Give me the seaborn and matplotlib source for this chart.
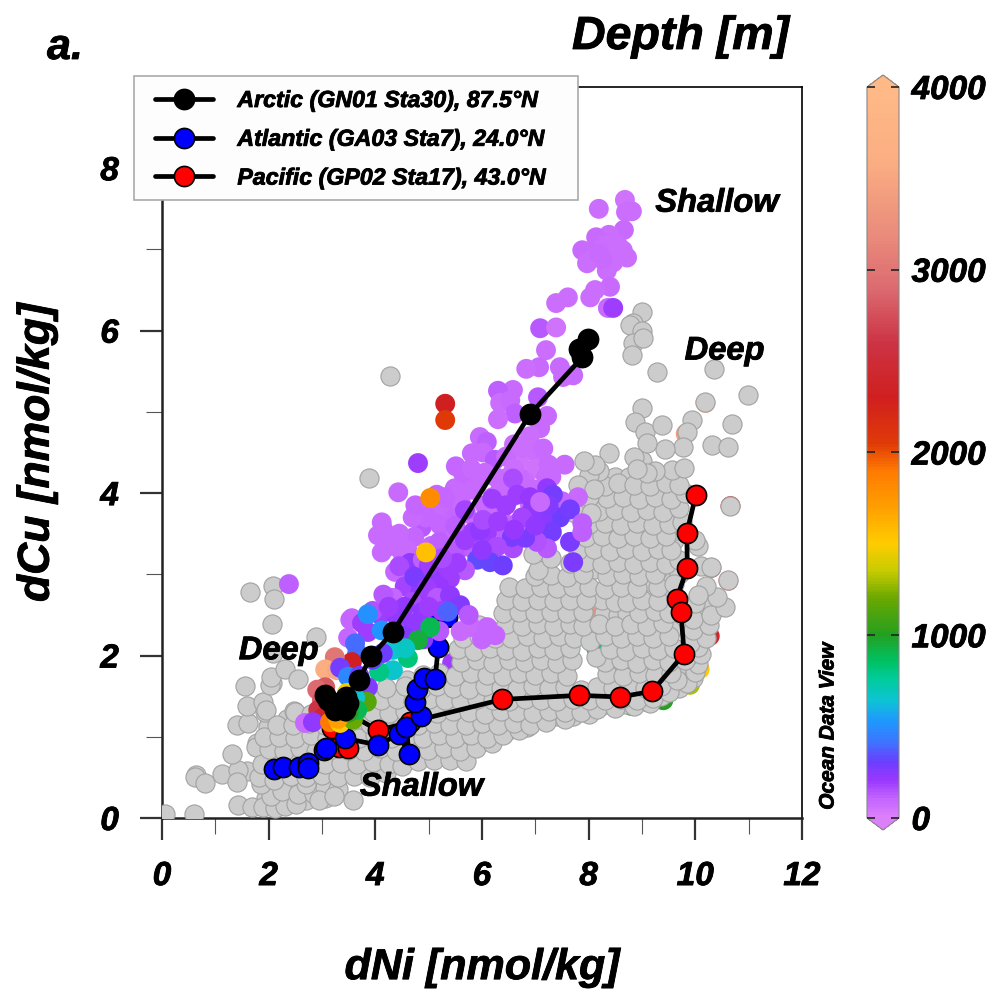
import matplotlib
matplotlib.use('Agg')
import matplotlib.pyplot as plt
import matplotlib.patheffects as pe
import pandas as pd
import seaborn as sns
from matplotlib.cm import ScalarMappable
from matplotlib.colors import LinearSegmentedColormap, Normalize
from matplotlib.patches import Rectangle
from matplotlib.text import Text
from matplotlib.ticker import MultipleLocator

# colour bar stops
depth_stops = [0, 100, 200, 300, 420, 520, 640, 760, 860, 1000, 1200, 1350, 1500, 1700,
               1900, 2050, 2300, 2600, 2900, 3200, 3600, 4000]
depth_colors = ['#dc80fa', '#c264ff', '#9a38ff', '#6c3eff', '#3a78ff', '#2096ff', '#0cc4d4',
                '#00cc99', '#00c060', '#259f20', '#6aa800', '#c8cc00', '#ffcc00', '#ff9f00',
                '#ff7a00', '#e03a08', '#d01f1f', '#cc3344', '#dc6a70', '#ea8c7c', '#fbae82', '#ffb987']

# arctic, atlantic and pacific station profiles
arctic_x = [7.99, 7.82, 7.88, 6.90, 4.33, 3.92, 3.69, 3.45, 3.49, 3.43, 3.34, 3.24, 3.19, 3.11, 3.06]
arctic_y = [5.90, 5.77, 5.67, 4.97, 2.29, 1.99, 1.70, 1.49, 1.42, 1.33, 1.35, 1.33, 1.42, 1.45, 1.51]
atlantic_x = [2.10, 2.27, 2.57, 2.74, 2.74, 3.04, 3.08, 3.43, 4.05, 4.44, 4.63, 4.58, 4.86, 4.74,
              4.78, 4.91, 5.12, 5.18, 5.16, 5.34]
atlantic_y = [0.60, 0.63, 0.63, 0.68, 0.61, 0.84, 0.86, 0.98, 0.90, 1.03, 0.79, 1.12, 1.26, 1.43,
              1.59, 1.72, 1.71, 2.10, 2.47, 2.47]
pacific_x = [10.01, 9.84, 9.85, 9.65, 9.73, 9.79, 9.19, 8.59, 7.82, 6.38, 4.65, 4.05, 3.45, 3.19, 3.32, 3.49]
pacific_y = [3.98, 3.51, 3.08, 2.70, 2.54, 2.02, 1.56, 1.49, 1.51, 1.46, 1.18, 1.08, 1.30, 1.11, 0.87, 0.86]

# coloured samples hidden under the grey cloud (x, y, depth)
under_pts = [(8.14, 2.09, 800), (5.44, 1.91, 200), (10.08, 1.83, 1500), (9.9, 1.64, 1300), (9.4, 1.45, 1000),
             (8.8, 1.38, 900), (10.27, 2.24, 2400), (10.52, 2.6, 2700), (10.3, 3.08, 2400), (10.66, 3.84, 2300),
             (9.82, 4.73, 3400), (10.19, 5.11, 3600), (8.0, 2.5, 3300), (10.62, 2.92, 3000)]

# arctic samples coloured by depth (x, y, depth)
arctic_top = [(8.68, 7.61, 60), (8.19, 7.50, 70), (8.70, 7.46, 70), (8.81, 7.47, 70), (8.66, 7.24, 80),
              (8.38, 7.18, 70), (8.14, 7.15, 80), (7.88, 6.99, 80), (8.64, 6.99, 70), (8.72, 6.90, 70),
              (8.44, 6.93, 80), (7.99, 6.95, 90), (7.97, 6.83, 70), (8.46, 6.84, 70), (8.34, 6.74, 70),
              (8.25, 6.88, 80), (8.1, 6.9, 70), (8.55, 7.05, 70), (8.3, 7.05, 70), (8.2, 6.95, 80),
              (8.40, 6.54, 80), (8.12, 6.50, 70), (8.03, 6.41, 70), (7.61, 6.41, 70), (7.39, 6.34, 70),
              (8.36, 6.28, 90), (8.46, 6.28, 190), (7.09, 6.03, 130), (7.39, 6.04, 60), (7.20, 5.76, 70),
              (7.07, 5.55, 80), (6.83, 5.53, 70), (7.46, 5.55, 90), (7.52, 5.43, 90), (7.71, 5.45, 90),
              (6.58, 5.27, 90), (6.30, 5.26, 110), (6.34, 5.11, 70), (6.53, 5.14, 90), (6.62, 4.98, 110),
              (6.30, 4.91, 70), (7.05, 5.18, 130), (7.22, 4.95, 90), (7.09, 4.80, 90), (5.96, 4.69, 90),
              (6.09, 4.63, 120), (5.81, 4.49, 80), (6.02, 4.50, 80), (6.24, 4.41, 130), (5.51, 4.33, 100),
              (4.80, 4.37, 190), (4.43, 4.01, 80)]
arctic_mid = [(7.0, 4.5, 70), (6.6, 4.6, 70), (6.9, 4.7, 70), (6.7, 4.4, 60), (7.15, 4.55, 90), (7.0, 4.3, 60),
              (6.5, 4.2, 70), (6.8, 4.15, 70), (7.3, 4.2, 90), (7.55, 4.35, 90), (7.8, 3.95, 90), (7.5, 3.9, 100),
              (7.1, 4.0, 70), (6.9, 3.85, 90), (6.2, 3.95, 80), (5.9, 4.1, 80), (5.6, 4.05, 80), (5.7, 3.75, 90),
              (5.35, 3.75, 90), (5.4, 3.5, 90), (5.9, 3.6, 80), (6.1, 3.4, 90), (6.35, 3.75, 100), (6.55, 3.95, 100),
              (4.12, 3.64, 80), (4.05, 3.48, 80), (4.15, 3.55, 80), (4.12, 3.27, 80), (4.50, 3.27, 80), (4.87, 3.58, 130),
              (4.73, 3.46, 100), (5.15, 3.98, 100), (5.04, 3.79, 100), (5.44, 3.82, 100), (5.21, 3.61, 100),
              (5.49, 4.06, 80), (5.64, 4.25, 100), (5.83, 4.04, 80), (4.6, 3.3, 90), (4.85, 3.2, 100), (5.05, 3.35, 100),
              (5.3, 3.25, 90), (5.55, 3.3, 130), (4.95, 3.0, 130), (5.2, 3.85, 90),
              (6.45, 4.45, 80), (6.25, 4.2, 90), (6.05, 4.25, 80), (5.8, 4.3, 90), (6.7, 4.2, 80), (7.25, 4.35, 80),
              (6.1, 3.75, 90), (6.4, 3.55, 110), (5.5, 3.6, 110), (5.2, 3.4, 110), (4.95, 3.7, 100), (4.7, 3.7, 90),
              (4.45, 3.5, 90), (4.3, 3.35, 80), (4.65, 3.05, 120), (5.1, 3.15, 120), (5.45, 3.05, 110), (5.85, 3.3, 120),
              (6.35, 4.05, 90), (6.95, 4.05, 80), (7.2, 4.2, 80), (6.75, 4.55, 70), (6.6, 4.3, 70), (6.05, 3.85, 90),
              (5.6, 3.9, 90), (5.3, 3.95, 100), (4.75, 3.85, 100)]
arctic_dark = [(6.58, 4.18, 170), (6.19, 3.93, 190), (5.68, 3.79, 180), (6.66, 3.98, 200), (6.90, 3.95, 210),
               (7.22, 4.06, 230), (7.33, 3.98, 290), (7.46, 3.70, 300), (7.65, 3.80, 290), (7.14, 3.67, 240),
               (6.94, 3.79, 220), (7.31, 3.52, 290), (7.65, 3.40, 280), (7.71, 3.15, 270), (7.88, 3.63, 120),
               (7.88, 3.52, 110), (7.22, 3.32, 130), (7.03, 3.40, 150), (6.58, 3.32, 170), (6.81, 3.45, 280),
               (6.56, 3.46, 280), (6.09, 3.51, 200), (5.83, 3.52, 200), (5.68, 3.42, 200), (5.96, 3.54, 220),
               (6.02, 3.67, 170), (6.66, 3.63, 120), (6.28, 3.34, 170), (5.91, 3.18, 330), (6.15, 3.15, 320),
               (6.39, 3.11, 300), (5.68, 3.05, 130), (5.53, 3.14, 190), (5.27, 3.02, 200), (4.74, 2.97, 230),
               (4.37, 3.03, 100), (4.65, 3.14, 220), (4.89, 3.18, 120), (6.3, 3.65, 200), (6.75, 3.7, 180),
               (7.0, 3.6, 220), (7.25, 3.85, 250), (6.45, 3.85, 190), (5.4, 2.95, 200), (5.05, 2.95, 220),
               (4.55, 2.85, 180), (4.85, 2.8, 230), (5.2, 2.85, 210), (4.45, 3.1, 170), (5.0, 3.1, 190),
               (5.25, 3.2, 170), (6.0, 3.3, 220), (6.6, 3.55, 210), (7.09, 3.89, 90)]
arctic_low = [(2.38, 2.88, 110), (4.33, 2.71, 100), (4.69, 2.66, 170), (4.73, 2.97, 270), (4.97, 2.83, 200),
              (5.16, 2.71, 130), (5.40, 2.74, 230), (5.59, 2.62, 260), (4.89, 2.54, 230), (3.53, 2.44, 100),
              (3.49, 2.22, 100), (3.56, 2.46, 100), (3.86, 2.29, 200), (4.09, 2.50, 190), (4.41, 2.47, 220),
              (4.71, 2.40, 220), (4.15, 2.75, 130), (3.95, 2.55, 150), (4.55, 2.6, 220), (5.0, 2.6, 190),
              (5.25, 2.55, 200), (4.25, 2.6, 190), (3.75, 2.4, 190), (4.5, 2.25, 260), (4.9, 2.2, 260),
              (5.2, 2.3, 130), (3.86, 2.51, 500), (4.12, 2.31, 520), (5.36, 2.54, 380), (5.03, 2.35, 900),
              (5.8, 2.35, 90), (6.1, 2.35, 100), (6.0, 2.2, 100), (6.25, 2.25, 100), (5.6, 2.3, 90), (5.75, 2.5, 130)]
arctic_deep = [(4.80, 2.19, 950), (4.61, 1.97, 820), (4.33, 2.07, 650), (4.56, 2.09, 680), (4.33, 1.82, 660),
               (4.07, 1.80, 800), (4.14, 2.03, 300), (3.66, 2.03, 430), (3.62, 2.15, 400), (3.56, 1.92, 2300),
               (3.24, 1.98, 3000), (3.06, 1.83, 3600), (3.28, 1.82, 3500), (3.34, 1.85, 290), (3.49, 1.74, 470),
               (3.86, 1.61, 260), (3.70, 1.75, 300), (3.95, 1.95, 310), (3.06, 1.61, 2800), (2.91, 1.58, 2900),
               (3.00, 1.45, 2800), (2.93, 1.33, 2600), (3.02, 1.24, 2400), (2.68, 1.17, 80), (2.83, 1.18, 220),
               (3.15, 1.18, 1900), (3.34, 1.17, 1500), (3.58, 1.21, 1200), (3.84, 1.43, 1150), (3.47, 1.54, 1450),
               (3.62, 1.48, 650), (3.66, 1.33, 900), (3.30, 1.22, 1700), (3.5, 1.3, 1000),
               (5.31, 5.10, 2300), (5.31, 4.90, 2060), (5.03, 3.94, 1800), (4.95, 3.27, 1550)]

# grey cloud of the other stations, roughly bottom to top
grey_left = [(0.05, 0.05), (0.6, 0.05), (0.64, 0.53), (0.62, 0.50), (0.81, 0.43), (1.13, 0.54), (1.43, 0.16),
             (1.59, 0.58), (1.43, 0.59), (1.41, 0.44), (1.31, 0.79), (1.41, 1.14), (1.61, 1.17), (1.78, 0.92),
             (1.77, 0.88), (2.01, 1.16), (1.98, 1.12), (1.59, 1.38), (1.93, 1.30), (1.89, 1.43), (1.56, 1.62),
             (2.06, 1.66), (2.03, 1.64), (2.04, 1.74), (2.31, 1.83), (2.55, 1.71), (1.95, 1.33), (2.48, 1.32),
             (2.63, 1.24), (1.65, 2.78), (2.08, 2.86), (2.10, 2.70), (2.06, 2.39), (2.89, 2.23), (2.08, 2.03),
             (3.88, 4.18), (4.28, 5.44), (1.69, 0.14), (1.89, 0.14), (2.12, 0.12), (2.3, 0.15), (2.52, 0.17),
             (2.05, 0.27), (2.25, 0.33), (2.55, 0.3), (2.85, 0.3), (3.05, 0.38), (3.3, 0.36), (3.58, 0.22),
             (2.94, 0.22), (3.22, 0.27), (1.85, 0.42), (2.0, 0.55), (2.7, 0.42)]
grey_low = [(1.82, 0.5), (2.1, 0.47), (2.42, 0.52), (2.7, 0.5), (3.0, 0.53), (3.3, 0.5), (3.6, 0.52), (3.9, 0.5),
            (4.2, 0.55), (1.88, 0.67), (2.15, 0.7), (2.45, 0.66), (2.75, 0.7), (3.05, 0.66), (3.35, 0.68), (3.65, 0.66),
            (3.95, 0.69), (4.25, 0.66), (4.5, 0.64), (4.8, 0.7), (5.1, 0.72), (5.4, 0.72), (5.7, 0.7),
            (2.0, 0.85), (2.28, 0.82), (2.58, 0.86), (2.88, 0.83), (3.18, 0.85), (3.48, 0.84), (3.78, 0.82), (4.08, 0.86),
            (4.38, 0.83), (4.68, 0.85), (4.98, 0.84), (5.28, 0.86), (5.58, 0.83), (5.88, 0.86), (6.18, 0.92),
            (1.92, 1.0), (2.2, 1.0), (2.5, 0.98), (2.8, 1.02), (3.1, 0.99), (3.4, 1.01), (3.7, 0.98), (4.0, 1.02),
            (4.3, 0.99), (4.6, 1.01), (4.9, 0.98), (5.2, 1.02), (5.5, 0.99), (5.8, 1.02), (6.1, 0.99), (6.4, 1.02), (6.7, 1.08),
            (2.15, 1.15), (2.45, 1.14), (2.75, 1.17), (3.05, 1.14), (3.9, 1.16), (4.2, 1.14), (4.5, 1.17), (4.8, 1.14),
            (5.1, 1.17), (5.4, 1.15), (5.7, 1.14), (6.0, 1.17), (6.3, 1.14), (6.6, 1.17), (6.9, 1.15), (7.2, 1.18), (7.55, 1.22),
            (2.5, 1.3), (2.8, 1.28), (3.95, 1.3), (4.25, 1.29), (4.55, 1.32), (4.85, 1.3), (5.15, 1.29), (5.45, 1.32),
            (5.75, 1.3), (6.05, 1.28), (6.35, 1.32), (6.65, 1.3), (6.95, 1.29), (7.25, 1.32), (7.55, 1.3), (7.85, 1.31),
            (8.15, 1.34), (8.5, 1.35), (8.85, 1.38), (9.15, 1.42),
            (4.1, 1.45), (4.4, 1.47), (4.7, 1.44), (5.0, 1.47), (5.3, 1.45), (5.6, 1.44), (5.9, 1.47), (6.2, 1.45),
            (6.5, 1.44), (6.8, 1.47), (7.1, 1.45), (7.4, 1.44), (7.7, 1.47), (8.0, 1.45), (8.3, 1.45), (8.6, 1.47),
            (8.9, 1.45), (9.2, 1.48), (9.5, 1.55), (9.85, 1.66)]
grey_mid = [(4.2, 1.6), (4.55, 1.62), (4.85, 1.59), (5.15, 1.62), (5.45, 1.6), (5.75, 1.59), (6.05, 1.62), (6.35, 1.6),
            (6.65, 1.59), (6.95, 1.62), (7.25, 1.6), (7.55, 1.61), (7.85, 1.58), (8.15, 1.61), (8.45, 1.6), (8.75, 1.62),
            (9.05, 1.6), (9.35, 1.62), (9.65, 1.7), (10.0, 1.8), (10.05, 1.9),
            (4.9, 1.76), (5.2, 1.78), (5.5, 1.75), (5.8, 1.78), (6.1, 1.76), (6.4, 1.75), (6.7, 1.78), (7.0, 1.76),
            (7.3, 1.78), (7.6, 1.75), (8.35, 1.77), (8.65, 1.75), (8.95, 1.78), (9.25, 1.76), (9.55, 1.78), (9.85, 1.98),
            (5.6, 1.92), (5.9, 1.94), (6.2, 1.91), (6.5, 1.94), (6.8, 1.92), (7.1, 1.94), (7.4, 1.91), (7.68, 1.94),
            (8.3, 1.92), (8.6, 1.94), (8.9, 1.91), (9.2, 1.94), (9.5, 1.92), (9.8, 1.94), (10.1, 2.02), (10.05, 2.1),
            (5.55, 2.08), (5.85, 2.06), (6.15, 2.09), (6.45, 2.07), (6.75, 2.06), (7.05, 2.09), (7.35, 2.07), (7.65, 2.09),
            (8.14, 1.98), (8.4, 2.08), (8.7, 2.06), (9.0, 2.09), (9.3, 2.07), (9.6, 2.09), (9.9, 2.16), (10.2, 2.22),
            (5.65, 2.22), (5.95, 2.24), (6.25, 2.22), (6.55, 2.21), (6.85, 2.24), (7.15, 2.22), (7.45, 2.24), (7.72, 2.22),
            (8.02, 2.18), (8.3, 2.24), (8.6, 2.22), (8.9, 2.24), (9.2, 2.21), (9.5, 2.24), (9.95, 2.32), (10.25, 2.38),
            (5.95, 2.38), (6.45, 2.39), (6.75, 2.37), (7.05, 2.39), (7.35, 2.37), (7.65, 2.39), (7.9, 2.37), (8.2, 2.39),
            (8.5, 2.37), (8.8, 2.39), (9.1, 2.37), (9.4, 2.4), (9.95, 2.45), (10.3, 2.5), (10.55, 2.6), (10.4, 2.72),
            (6.4, 2.52), (6.7, 2.54), (7.0, 2.52), (7.3, 2.54), (7.6, 2.52), (7.9, 2.54), (8.95, 2.53), (9.25, 2.55),
            (9.5, 2.53), (10.0, 2.65),
            (6.45, 2.68), (6.75, 2.67), (7.05, 2.69), (7.35, 2.67), (7.65, 2.69), (7.95, 2.68), (8.72, 2.66), (9.0, 2.69),
            (9.3, 2.67), (10.2, 2.86), (10.05, 2.75), (9.3, 2.85), (9.6, 2.88)]
grey_high = [(6.5, 2.84), (6.8, 2.83), (7.1, 2.85), (7.4, 2.83), (7.7, 2.85), (8.0, 2.84), (8.3, 2.82), (8.6, 2.85), (8.9, 2.83),
             (7.0, 2.98), (7.3, 2.99), (7.6, 2.97), (7.9, 3.0), (8.35, 2.98), (8.65, 3.0), (8.95, 2.98), (9.25, 3.0), (10.1, 3.1),
             (10.05, 3.35), (10.29, 3.09), (10.61, 2.93), (7.65, 3.14), (7.95, 3.15), (8.25, 3.13), (8.55, 3.15), (8.85, 3.13),
             (9.15, 3.15), (9.45, 3.13), (9.7, 3.18), (7.8, 3.3), (8.1, 3.31), (8.4, 3.29), (8.7, 3.31), (9.0, 3.29), (9.3, 3.31),
             (9.55, 3.3), (10.0, 3.42), (7.95, 3.46), (8.25, 3.47), (8.55, 3.45), (8.85, 3.47), (9.15, 3.45), (9.45, 3.47),
             (8.0, 3.62), (8.3, 3.63), (8.6, 3.61), (8.9, 3.63), (9.2, 3.61), (9.5, 3.62), (9.75, 3.65), (8.2, 3.78), (8.5, 3.79),
             (8.8, 3.77), (9.1, 3.79), (9.4, 3.77), (9.7, 3.82), (8.35, 3.94), (8.65, 3.95), (8.95, 3.93), (9.25, 3.95), (9.55, 3.93),
             (9.8, 4.0), (8.3, 4.09), (8.55, 4.12), (8.85, 4.1), (9.15, 4.09), (9.45, 4.12), (9.7, 4.1), (8.2, 4.27), (8.0, 4.22),
             (7.85, 3.85), (8.0, 3.95), (7.8, 4.1), (8.1, 4.05), (7.75, 3.75), (8.05, 3.75)]
grey_top = [(9.0, 6.23), (8.83, 6.10), (8.78, 6.07), (9.0, 6.0), (8.83, 5.85), (8.81, 5.70), (9.02, 5.91), (9.28, 5.49),
            (10.35, 5.53), (10.99, 5.21), (10.18, 5.12), (10.69, 4.85), (10.31, 4.59), (10.61, 4.57), (9.94, 4.90),
            (9.84, 4.75), (9.77, 4.57), (10.65, 3.84), (9.0, 5.05), (8.87, 4.87), (9.06, 4.75), (9.38, 4.84),
            (9.43, 4.54), (9.09, 4.62), (8.85, 4.44), (8.38, 4.50), (8.12, 4.34), (7.91, 4.39), (9.56, 4.28),
            (9.79, 4.31), (9.24, 4.27), (9.09, 4.25), (8.9, 4.3), (7.05, 3.05), (7.3, 3.2), (6.95, 3.25)]
# second pass over the dense part, between the rows above
grey_fill = [(2.1, 0.2), (2.35, 0.42), (2.6, 0.6), (2.9, 0.58), (3.2, 0.6), (3.5, 0.6), (3.78, 0.58), (4.1, 0.6),
             (2.2, 0.58), (2.35, 0.92), (2.65, 0.93), (2.95, 0.92), (3.25, 0.93), (3.55, 0.91), (3.85, 0.92), (4.15, 0.94),
             (4.45, 0.91), (4.75, 0.93), (5.05, 0.91), (5.35, 0.94), (5.65, 0.92), (5.95, 0.93), (2.3, 1.08), (2.62, 1.08),
             (2.92, 1.07), (3.55, 1.08), (3.85, 1.07), (4.15, 1.08), (4.45, 1.09), (4.75, 1.07), (5.05, 1.08), (5.35, 1.07),
             (5.65, 1.08), (5.95, 1.09), (6.25, 1.07), (6.55, 1.09), (6.85, 1.12), (2.35, 1.22), (2.65, 1.2), (4.05, 1.22),
             (4.35, 1.23), (4.65, 1.21), (4.95, 1.22), (5.25, 1.2), (5.55, 1.22), (5.85, 1.23), (6.15, 1.21), (6.45, 1.23),
             (6.75, 1.22), (7.05, 1.23), (7.4, 1.25), (7.7, 1.25), (8.0, 1.28), (4.25, 1.38), (4.55, 1.39), (4.95, 1.38),
             (5.25, 1.37), (5.55, 1.38), (5.85, 1.39), (6.15, 1.37), (6.45, 1.38), (6.75, 1.37), (7.05, 1.38), (7.35, 1.37),
             (7.65, 1.39), (7.95, 1.38), (8.25, 1.39), (8.7, 1.4), (9.05, 1.44), (9.35, 1.5), (9.7, 1.6), (9.95, 1.72),
             (4.6, 1.7), (5.0, 1.68), (5.3, 1.69), (5.65, 1.68), (5.95, 1.7), (6.25, 1.68), (6.55, 1.69), (6.85, 1.68),
             (7.15, 1.7), (7.45, 1.68), (8.5, 1.69), (8.8, 1.68), (9.1, 1.7), (9.4, 1.69), (9.75, 1.84), (5.75, 1.85),
             (6.05, 1.84), (6.35, 1.85), (6.65, 1.85), (6.95, 1.84), (7.25, 1.85), (7.55, 1.84), (8.45, 1.85), (8.75, 1.84),
             (9.05, 1.85), (9.35, 1.84), (9.65, 1.86), (5.7, 2.0), (6.0, 2.0), (6.3, 2.0), (6.6, 2.0), (6.9, 2.0), (7.2, 2.01),
             (7.5, 2.0), (8.55, 2.0), (8.85, 2.0), (9.15, 2.01), (9.45, 2.0), (9.95, 2.05), (5.8, 2.15), (6.1, 2.15), (6.4, 2.16),
             (6.7, 2.14), (7.0, 2.15), (7.3, 2.15), (7.6, 2.16), (8.5, 2.15), (8.8, 2.15), (9.1, 2.14), (9.4, 2.16), (10.1, 2.3),
             (6.15, 2.32), (6.6, 2.3), (6.9, 2.3), (7.2, 2.31), (7.5, 2.3), (8.35, 2.31), (8.65, 2.3), (8.95, 2.31), (9.25, 2.3),
             (9.55, 2.32), (10.15, 2.45), (6.55, 2.46), (6.85, 2.45), (7.15, 2.46), (7.45, 2.45), (7.75, 2.46), (9.1, 2.46),
             (9.4, 2.47), (10.2, 2.6), (6.6, 2.6), (6.9, 2.6), (7.2, 2.61), (7.5, 2.6), (7.8, 2.61), (8.85, 2.6), (9.15, 2.61),
             (9.45, 2.6), (10.3, 2.65), (6.65, 2.76), (6.95, 2.76), (7.25, 2.75), (7.55, 2.76), (7.85, 2.76), (8.15, 2.76),
             (8.75, 2.76), (9.05, 2.76), (9.45, 2.76), (7.15, 2.92), (7.45, 2.92), (7.75, 2.91), (8.5, 2.92), (8.8, 2.91),
             (9.1, 2.92), (9.4, 2.92), (9.7, 3.0), (7.8, 3.07), (8.1, 3.07), (8.4, 3.07), (8.7, 3.06), (9.0, 3.07), (9.3, 3.07),
             (7.95, 3.23), (8.25, 3.22), (8.55, 3.22), (8.85, 3.23), (9.15, 3.22), (9.45, 3.22), (8.1, 3.38), (8.4, 3.38),
             (8.7, 3.38), (9.0, 3.39), (9.3, 3.38), (9.6, 3.42), (8.15, 3.54), (8.45, 3.55), (8.75, 3.54), (9.05, 3.55),
             (9.35, 3.54), (9.65, 3.55), (8.35, 3.7), (8.65, 3.7), (8.95, 3.7), (9.25, 3.7), (9.55, 3.7), (8.35, 3.86),
             (8.65, 3.86), (8.95, 3.86), (9.25, 3.86), (9.55, 3.86), (8.5, 4.03), (8.8, 4.03), (9.1, 4.02), (9.4, 4.03),
             (8.5, 4.2), (8.75, 4.2), (9.0, 4.4), (9.35, 4.2), (9.6, 4.2),
             (8.28, 2.52), (8.55, 2.5), (8.72, 2.52), (8.25, 2.68), (8.5, 2.66), (1.95, 0.25), (2.2, 0.42), (2.7, 0.22), (3.05, 0.25)]

cbar_ticks = [0, 1000, 2000, 3000, 4000]
x_ticks = [0, 2, 4, 6, 8, 10, 12]
y_ticks = [0, 2, 4, 6, 8]

sns.set_theme(style='white')
plt.rcParams['font.family'] = ['Liberation Sans', 'DejaVu Sans']
plt.rcParams['font.weight'] = 'bold'
plt.rcParams['font.style'] = 'italic'
plt.rcParams['text.color'] = 'black'
plt.rcParams['axes.labelcolor'] = 'black'
plt.rcParams['xtick.labelcolor'] = 'black'
plt.rcParams['ytick.labelcolor'] = 'black'

stops = [(d / 4000, c) for d, c in zip(depth_stops, depth_colors)]
depth_cmap = LinearSegmentedColormap.from_list('odv_depth', stops, N=256)
depth_cmap.set_under(depth_colors[0])
depth_cmap.set_over(depth_colors[-1])
depth_norm = Normalize(0, 4000)

fig = plt.figure(figsize=(9.9, 9.89), dpi=100)
ax = fig.add_axes([162 / 990, 1 - 818 / 989, 640 / 990, 731 / 989])


def depth_layer(pts, z):
    df = pd.DataFrame(pts, columns=['x', 'y', 'depth'])
    sns.scatterplot(data=df, x='x', y='y', hue='depth', palette=depth_cmap, hue_norm=depth_norm,
                    s=205, linewidth=0, legend=False, zorder=z, ax=ax)


def profile(xs, ys, col, name, z):
    df = pd.DataFrame({'x': xs, 'y': ys})
    sns.lineplot(data=df, x='x', y='y', sort=False, estimator=None, color='black', linewidth=3.4,
                 marker='o', markersize=14.5, markerfacecolor=col, markeredgecolor='black',
                 markeredgewidth=1.2, zorder=z, label=name, ax=ax)


depth_layer(under_pts, 2)

grey = pd.DataFrame(grey_fill + grey_left + grey_low + grey_mid + grey_high + grey_top, columns=['x', 'y'])
sns.scatterplot(data=grey, x='x', y='y', color='#cccccc', edgecolor='#a2a2a2', linewidth=0.8, s=190,
                legend=False, zorder=3, ax=ax)

profile(pacific_x, pacific_y, 'red', 'Pacific (GP02 Sta17), 43.0°N', 4)
profile(atlantic_x, atlantic_y, 'blue', 'Atlantic (GA03 Sta7), 24.0°N', 5)
depth_layer(arctic_top + arctic_mid + arctic_dark + arctic_low + arctic_deep, 6)
profile(arctic_x, arctic_y, 'black', 'Arctic (GN01 Sta30), 87.5°N', 7)

ax.set_xlim(0, 12)
ax.set_ylim(0, 9)
ax.set_xticks(x_ticks)
ax.set_yticks(y_ticks)
ax.xaxis.set_minor_locator(MultipleLocator(1))
ax.yaxis.set_minor_locator(MultipleLocator(1))
ax.tick_params(which='major', direction='out', length=16, width=1.6, color='#333333', labelsize=24,
               pad=15, bottom=True, left=True)
ax.tick_params(which='minor', direction='out', length=11.5, width=0.8, color='#555555', bottom=True, left=True)
for sp in ['left', 'bottom']:
    ax.spines[sp].set_linewidth(1.8)
    ax.spines[sp].set_color('#222222')
for sp in ['top', 'right']:
    ax.spines[sp].set_linewidth(1.2)
    ax.spines[sp].set_color('black')

ax.set_xlabel('dNi [nmol/kg]', fontsize=31, fontweight='bold', fontstyle='italic')
ax.set_ylabel('dCu [nmol/kg]', fontsize=32, fontweight='bold', fontstyle='italic')
ax.xaxis.set_label_coords(0.5, -0.178)
ax.yaxis.set_label_coords(-0.163, 0.5)

ax.text(9.25, 7.57, 'Shallow', fontsize=23.5, va='center', zorder=10)
ax.text(9.8, 5.75, 'Deep', fontsize=23.5, va='center', zorder=10)
ax.text(1.44, 2.06, 'Deep', fontsize=23.5, va='center', zorder=10)
ax.text(3.71, 0.38, 'Shallow', fontsize=23.5, va='center', zorder=10)

# legend frame is drawn apart so it can keep the wider right margin
ax.add_patch(Rectangle((134 / 990, 1 - 200 / 989), 444 / 990, 124 / 989, transform=fig.transFigure, clip_on=False,
                       facecolor='#fdfdfd', edgecolor='#aaaaaa', linewidth=1.2, zorder=19))
handles, labels = ax.get_legend_handles_labels()
order = [2, 1, 0]
leg = ax.legend([handles[i] for i in order], [labels[i] for i in order], loc='upper left',
                bbox_to_anchor=(155 / 990, 1 - 89 / 989), bbox_transform=fig.transFigure, borderaxespad=0,
                fontsize=16.7, frameon=False, handlelength=2.52, handletextpad=1.03, labelspacing=0.68, borderpad=0)
leg.set_zorder(20)

fig.text(572 / 990, 1 - 37 / 989, 'Depth [m]', fontsize=33.5, va='center')
fig.text(47 / 990, 1 - 48 / 989, 'a.', fontsize=31, va='center')
fig.text(828 / 990, 1 - 726 / 989, 'Ocean Data View', fontsize=15, rotation=90, ha='center', va='center')

cax = fig.add_axes([867 / 990, 1 - 830 / 989, 32 / 990, 755 / 989])
cbar = fig.colorbar(ScalarMappable(norm=depth_norm, cmap=depth_cmap), cax=cax, extend='both', extendfrac=0.0164)
cbar.set_ticks(cbar_ticks)
cbar.ax.set_axisbelow(False)
cbar.ax.tick_params(which='major', direction='in', length=6, width=1.2, color='#222222', left=True, right=True,
                    labelsize=24, pad=9)
cbar.ax.minorticks_off()
cbar.outline.set_edgecolor('#888888')
cbar.outline.set_linewidth(0.8)

# the reference type is a little heavier than plain bold
for t in fig.findobj(Text):
    t.set_path_effects([pe.withStroke(linewidth=0.6, foreground='black')])

fig.savefig('out.png', dpi=100)
